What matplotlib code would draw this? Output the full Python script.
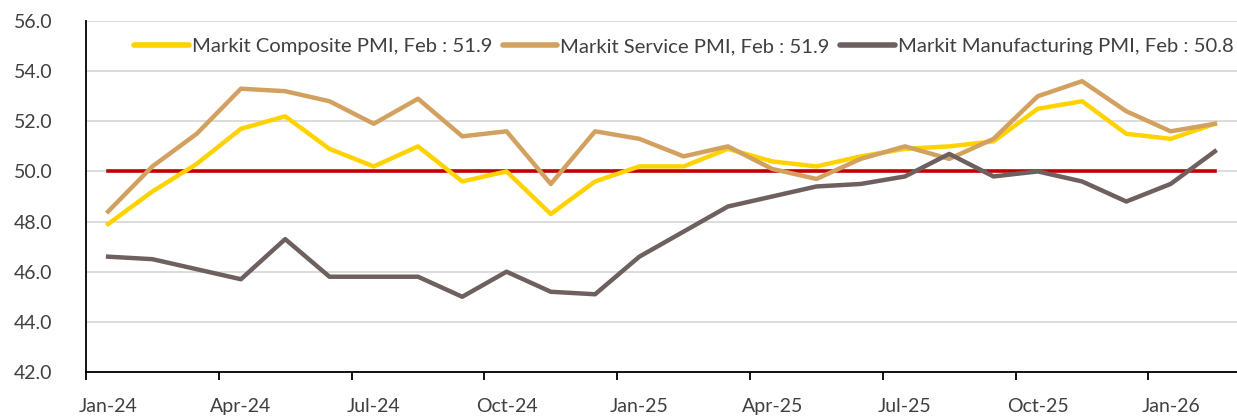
import numpy as np
import matplotlib.pyplot as plt

# monthly PMI readings, Jan-24 .. Feb-26
months = ['Jan-24', 'Feb-24', 'Mar-24', 'Apr-24', 'May-24', 'Jun-24', 'Jul-24', 'Aug-24',
          'Sep-24', 'Oct-24', 'Nov-24', 'Dec-24', 'Jan-25', 'Feb-25', 'Mar-25', 'Apr-25',
          'May-25', 'Jun-25', 'Jul-25', 'Aug-25', 'Sep-25', 'Oct-25', 'Nov-25', 'Dec-25',
          'Jan-26', 'Feb-26']
composite = [47.9, 49.2, 50.3, 51.7, 52.2, 50.9, 50.2, 51.0, 49.6, 50.0, 48.3, 49.6, 50.2,
             50.2, 50.9, 50.4, 50.2, 50.6, 50.9, 51.0, 51.2, 52.5, 52.8, 51.5, 51.3, 51.9]
service = [48.4, 50.2, 51.5, 53.3, 53.2, 52.8, 51.9, 52.9, 51.4, 51.6, 49.5, 51.6, 51.3,
           50.6, 51.0, 50.1, 49.7, 50.5, 51.0, 50.5, 51.3, 53.0, 53.6, 52.4, 51.6, 51.9]
manufacturing = [46.6, 46.5, 46.1, 45.7, 47.3, 45.8, 45.8, 45.8, 45.0, 46.0, 45.2, 45.1, 46.6,
                 47.6, 48.6, 49.0, 49.4, 49.5, 49.8, 50.7, 49.8, 50.0, 49.6, 48.8, 49.5, 50.8]
threshold = 50.0

plt.rcParams['font.family'] = ['Lato', 'DejaVu Sans']

fig = plt.figure(figsize=(12.37, 4.16), dpi=100)
ax = fig.add_axes([0.0695, 0.1058, 0.9305, 0.8437])

x = np.arange(len(months))
ax.plot(x, composite, color='#FFD200', lw=3.2, label='Markit Composite PMI, Feb : 51.9')
ax.plot(x, service, color='#D2A160', lw=3.2, label='Markit Service PMI, Feb : 51.9')
ax.plot(x, manufacturing, color='#6E605E', lw=3.2, label='Markit Manufacturing PMI, Feb : 50.8')
ax.plot(x, np.full(len(x), threshold), color='#C00000', lw=2.6, zorder=1.5)

ax.set_xlim(-0.5, len(months) - 0.5)
ax.set_ylim(42, 56)
ax.set_yticks(np.arange(42, 56.1, 2))
ax.set_yticklabels([f'{v:.1f}' for v in np.arange(42, 56.1, 2)])
ax.grid(axis='y', color='#D9D9D9', lw=1.3)
ax.set_axisbelow(True)

ax.set_xticks(np.arange(-0.5, len(months), 3))
ax.set_xticklabels([])
ax.set_xticks(x[::3], minor=True)
ax.set_xticklabels(months[::3], minor=True)
ax.tick_params(axis='x', which='major', length=6, width=1.3, color='black')
ax.tick_params(axis='x', which='minor', length=0, pad=19, labelsize=14, labelcolor='#404040')
ax.tick_params(axis='y', length=0, pad=24, labelsize=14, labelcolor='#404040')

for s in ['top', 'right']:
    ax.spines[s].set_visible(False)
for s in ['left', 'bottom']:
    ax.spines[s].set_color('black')
    ax.spines[s].set_linewidth(1.3)

leg = ax.legend(loc='upper right', bbox_to_anchor=(1.004, 0.975), ncol=3, frameon=False,
                fontsize=14.6, handlelength=2.7, handletextpad=0.15, columnspacing=0.5,
                labelcolor='#404040', borderaxespad=0)
for h in leg.get_lines():
    h.set_linewidth(4)
    h.set_solid_capstyle('round')

fig.savefig('out.png', dpi=100)
